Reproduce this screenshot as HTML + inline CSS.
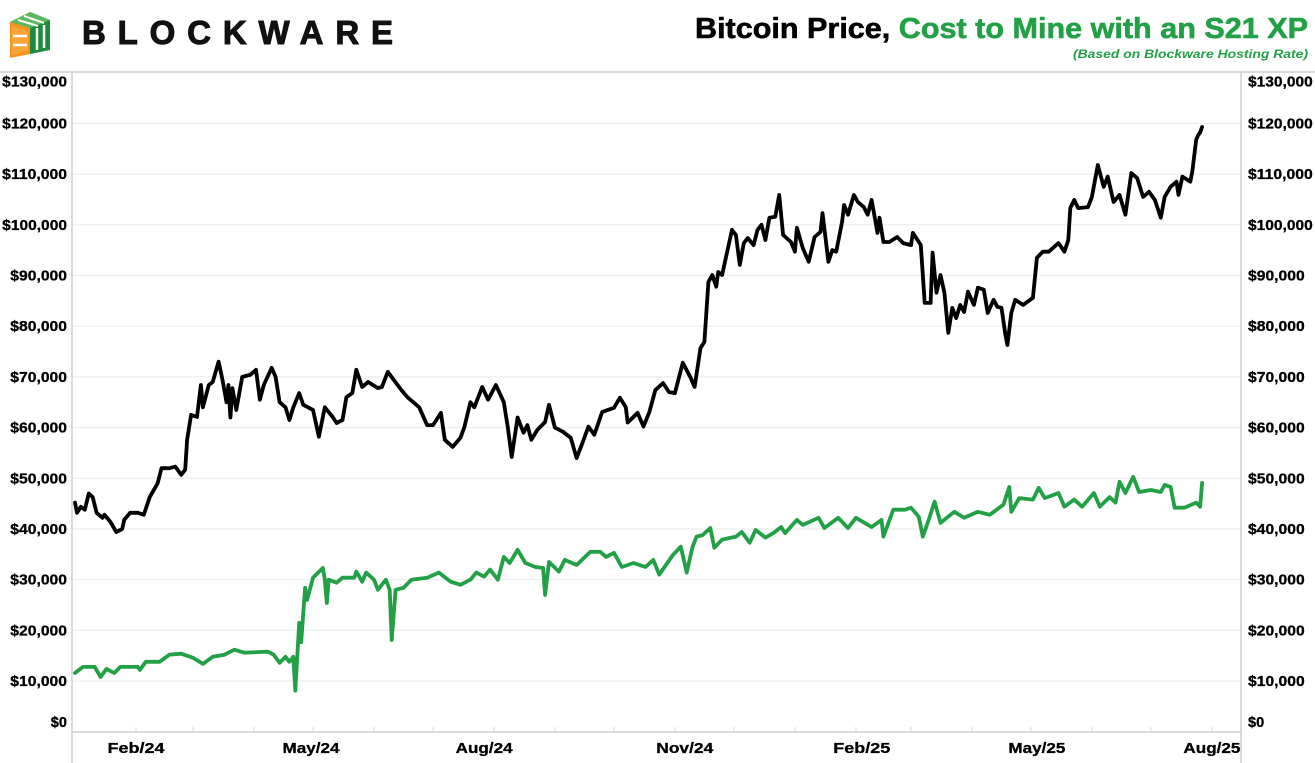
<!DOCTYPE html>
<html><head><meta charset="utf-8"><style>
html,body{margin:0;padding:0;background:#fff;}
body{width:1315px;height:763px;overflow:hidden;position:relative;font-family:"Liberation Sans",Arial,sans-serif;}
svg{position:absolute;left:0;top:0;}
</style></head><body>
<svg id="chart" width="1315" height="763" viewBox="0 0 1315 763">
  <g>
    <polygon points="10,22 30,12 30,54 10,58" fill="#f7941d"/>
    <polygon points="30,12 50,20 50,50 30,54" fill="#1e8a3c"/>
    <polygon points="10,22 30,12 50,20 30,28" fill="#5cb85c"/>
    <polygon points="12,26 28,31 28,50 12,55" fill="#f9a43a"/>
    <line x1="13" y1="36" x2="27" y2="36" stroke="#fff" stroke-width="2.5"/>
    <line x1="13" y1="45" x2="27" y2="45" stroke="#fff" stroke-width="2.5"/>
    <line x1="37" y1="28" x2="37" y2="50" stroke="#fff" stroke-width="2.5"/>
    <line x1="44" y1="25" x2="44" y2="48" stroke="#fff" stroke-width="2.5"/>
    <line x1="18" y1="20" x2="38" y2="26" stroke="#fff" stroke-width="2"/>
    <line x1="24" y1="16" x2="44" y2="23" stroke="#fff" stroke-width="2"/>
    <text x="82" y="44" font-size="33" font-weight="900" textLength="311" lengthAdjust="spacing" fill="#111" stroke="#111" stroke-width="1">BLOCKWARE</text>
  </g>
  <text x="695" y="38" textLength="613" lengthAdjust="spacingAndGlyphs" font-size="29" font-weight="bold" fill="#000" stroke="#000" stroke-width="0.6">Bitcoin Price, <tspan fill="#22a045" stroke="#22a045">Cost to Mine with an S21 XP</tspan></text>
  <text x="1073" y="58" textLength="235" lengthAdjust="spacingAndGlyphs" font-size="12" font-weight="bold" font-style="italic" fill="#22a045">(Based on Blockware Hosting Rate)</text>
  <g id="grid"></g>
  <line x1="0" y1="72" x2="1315" y2="72" stroke="#cfcfcf" stroke-width="1.5"/>
  <line x1="72" y1="72" x2="72" y2="763" stroke="#cfcfcf" stroke-width="1.5"/>
  <line x1="1241" y1="72" x2="1241" y2="763" stroke="#cfcfcf" stroke-width="1.5"/>
  <line x1="72" y1="732" x2="1241" y2="732" stroke="#cfcfcf" stroke-width="1.5"/>
  <g id="labels"></g>
  <g id="series"></g>
</svg>
<script>
const yTicks = [0,10000,20000,30000,40000,50000,60000,70000,80000,90000,100000,110000,120000,130000];
const xLabels = ["Feb/24","May/24","Aug/24","Nov/24","Feb/25","May/25","Aug/25"];
const xLabelDays = [31,120,208,310,400,489,578];
const monthTickDays = [31,60,91,121,152,182,213,244,274,305,335,366,397,425,456,486,517,547,578];
const priceDays = [0,1,3,5,7,9,11,14,15,18,21,24,25,28,32,35,38,42,44,48,51,54,56,57,59,62,64,65,68,70,73,75,77,78,79,80,82,85,89,92,94,96,100,102,104,107,109,111,114,116,121,124,127,131,133,136,138,141,143,146,149,154,156,159,162,166,169,172,175,179,182,186,188,192,196,198,201,203,207,210,214,218,220,222,225,228,230,232,235,239,241,244,248,252,255,258,261,264,268,274,277,280,281,286,289,292,295,299,302,305,309,313,315,318,320,322,324,326,327,329,331,334,336,338,340,342,345,347,349,351,353,356,358,360,364,366,367,370,373,376,379,380,383,385,387,390,391,393,396,398,401,403,405,408,409,411,414,418,421,425,426,430,432,435,436,438,440,442,444,446,448,450,452,454,457,459,462,464,467,469,471,473,474,476,478,482,487,489,492,495,500,503,505,506,508,510,515,517,520,523,525,528,531,534,537,540,543,546,549,552,554,557,560,561,563,567,568,570,571,572,573];
const priceK = [45.2,43.2,44.4,43.8,47,46.3,43.2,42.2,42.8,41.4,39.4,40,41.8,43.2,43.2,42.8,46.3,49,52,52,52.3,50.7,51.7,57.6,62.5,62.1,68.4,64,68.4,69,73,69.4,65,68.4,62,67.8,63.5,70,70.4,71.4,65.5,68.4,71.8,70,65,64,61.5,64,66.8,64.5,63.5,58.2,64,62.1,60.9,61.5,66,66.8,71.4,68,69,67.8,68,71,69.4,67.4,66,65,64,60.5,60.5,62.9,57.6,56.2,58,60.2,65,64,68,65.5,68.4,65,60.2,54.2,62,59,60.5,57.6,59.5,61.1,64.5,60,59.2,58,54,57,60.2,58.6,63.1,63.9,65.9,64,61,62.9,60.2,63.1,67.4,68.8,67,66.8,72.8,69.8,68,75.7,76.9,88.7,90.1,87.8,90.7,90.1,93.7,99,98,92.1,96.4,97.4,96,99,100,97,101.4,101.6,105.9,98,96.6,94.7,99.4,95.4,92.7,97.6,98.6,102.3,92.7,95,94.7,100.6,103.9,102,105.9,104.5,103.5,102,104.9,98.4,101.4,96.6,96.6,97.6,96.4,96,98.4,96,84.6,84.6,94.5,86.6,90.1,86.6,78.7,83.6,81.6,84.2,82.8,86.8,84.2,87.6,87.2,82.6,85.2,83.8,83.6,78.3,76.3,82.6,85.2,84.2,85.6,93.5,94.7,94.7,96.4,94.7,97,103.3,104.9,103.3,103.5,105.5,111.8,107.5,109.5,104.5,105.9,102,110.2,109.2,105.5,106.5,104.9,101.4,105.5,107.5,108.5,105.9,109.5,108.5,110.5,116.8,117.7,118.2,119.3];
const costDays = [0,4,10,13,16,20,23,32,33,36,43,48,54,60,65,70,76,81,86,98,101,104,107,109,111,112,114,115,117,118,121,126,127,128,129,133,136,142,143,146,148,152,154,158,160,161,163,167,171,179,185,191,196,201,204,208,211,215,218,221,225,229,234,238,239,241,246,249,255,262,267,270,274,278,284,290,294,297,304,308,311,314,316,319,323,325,329,336,339,343,346,351,355,359,361,367,370,378,381,388,393,397,405,410,411,416,422,425,429,431,434,437,440,447,452,459,465,472,475,476,480,487,490,493,500,503,508,512,518,521,526,529,531,534,538,541,547,552,554,557,559,564,570,572,573];
const costK = [11.6,12.8,12.8,10.8,12.4,11.6,12.8,12.8,12.2,13.8,13.8,15.2,15.4,14.6,13.4,14.8,15.2,16.2,15.6,15.8,15.2,13.6,14.8,13.8,14.8,8.1,21.5,17.7,28.4,26,30.4,32.3,30,25.4,30,29.4,30.4,30.4,31.6,29.6,31.4,30,28,30,28,18.1,28,28.4,30,30.4,31.4,29.6,29,30,31.4,30.6,32,30,34.5,33.3,35.9,33.3,32.5,32.3,27,33.5,31.6,33.9,32.9,35.5,35.5,34.5,35.3,32.5,33.3,32.5,33.9,31,34.9,36.5,31.4,36.5,38.5,38.8,40.2,36.3,37.9,38.5,39.4,37.3,39.8,38.3,39.2,40.4,39.2,41.8,40.8,42.2,40.2,42.2,40.2,42.2,40.4,41.8,38.5,43.8,43.8,44.2,42.4,38.5,41.8,45.4,41.2,43.4,42.2,43.4,42.8,44.8,48.3,43.4,46.1,45.8,48.1,46.1,47.1,44.4,45.8,44.4,47.1,44.4,46.3,45.2,49.3,47.1,50.3,47.3,47.7,47.3,48.7,48.3,44.2,44.2,45.2,44.4,49.1];

const NS = "http://www.w3.org/2000/svg";
const X0 = 75, PXDAY = 1.967, Y0 = 731.8, PX10K = 50.7;
function xScale(d){ return X0 + d*PXDAY; }
function yScale(v){ return Y0 - v/10000*PX10K; }
function mk(tag, attrs, parent){ const e=document.createElementNS(NS,tag); for(const k in attrs) e.setAttribute(k,attrs[k]); parent.appendChild(e); return e; }
function fmt(v){ return "$"+v.toLocaleString("en-US"); }

const grid = document.getElementById("grid");
const labels = document.getElementById("labels");
yTicks.forEach((v,i)=>{
  const y = yScale(v);
  if(v>0 && v<130000){
    const g = mk("line",{x1:72,x2:1241,y1:y,y2:y,stroke:"#ececec","stroke-width":1.2},grid);
    
    
  }
  let ly = y + 5;
  if(i===0) ly = y - 5;
  if(i===yTicks.length-1) ly = y + 14;
  const s = fmt(v);
  const w = s.length * 8.1;
  const tl = mk("text",{x:67-w,y:ly,textLength:w,lengthAdjust:"spacingAndGlyphs","font-size":14.5,"font-weight":"bold",fill:"#000",stroke:"#000","stroke-width":0.3},labels);
  tl.textContent = s;
  
  
  const tr = mk("text",{x:1248,y:ly,textLength:w,lengthAdjust:"spacingAndGlyphs","font-size":14.5,"font-weight":"bold",fill:"#000",stroke:"#000","stroke-width":0.3},labels);
  tr.textContent = s;
  
  
});
monthTickDays.forEach(d=>{
  const x = xScale(d);
  const t = mk("line",{x1:x,x2:x,y1:727,y2:732,stroke:"#d8d8d8","stroke-width":1},grid);
  
  
});
xLabels.forEach((s,i)=>{
  const w = s.length * 9.5;
  const t = mk("text",{x:xScale(xLabelDays[i]) - w/2,y:753,textLength:w,lengthAdjust:"spacingAndGlyphs","font-size":15,"font-weight":"bold",fill:"#000",stroke:"#000","stroke-width":0.3},labels);
  t.textContent = s;
  
  
});
const series = document.getElementById("series");
function path(days, vals){ return days.map((d,i)=>(i?"L":"M")+xScale(d).toFixed(1)+","+yScale(vals[i]*1000).toFixed(1)).join(""); }
const cp = mk("path",{d:path(costDays,costK),fill:"none",stroke:"#22a045","stroke-width":3.8,"stroke-linejoin":"round","stroke-linecap":"round"},series);


const pp = mk("path",{d:path(priceDays,priceK),fill:"none",stroke:"#000","stroke-width":3.8,"stroke-linejoin":"round","stroke-linecap":"round"},series);


</script>
</body></html>
